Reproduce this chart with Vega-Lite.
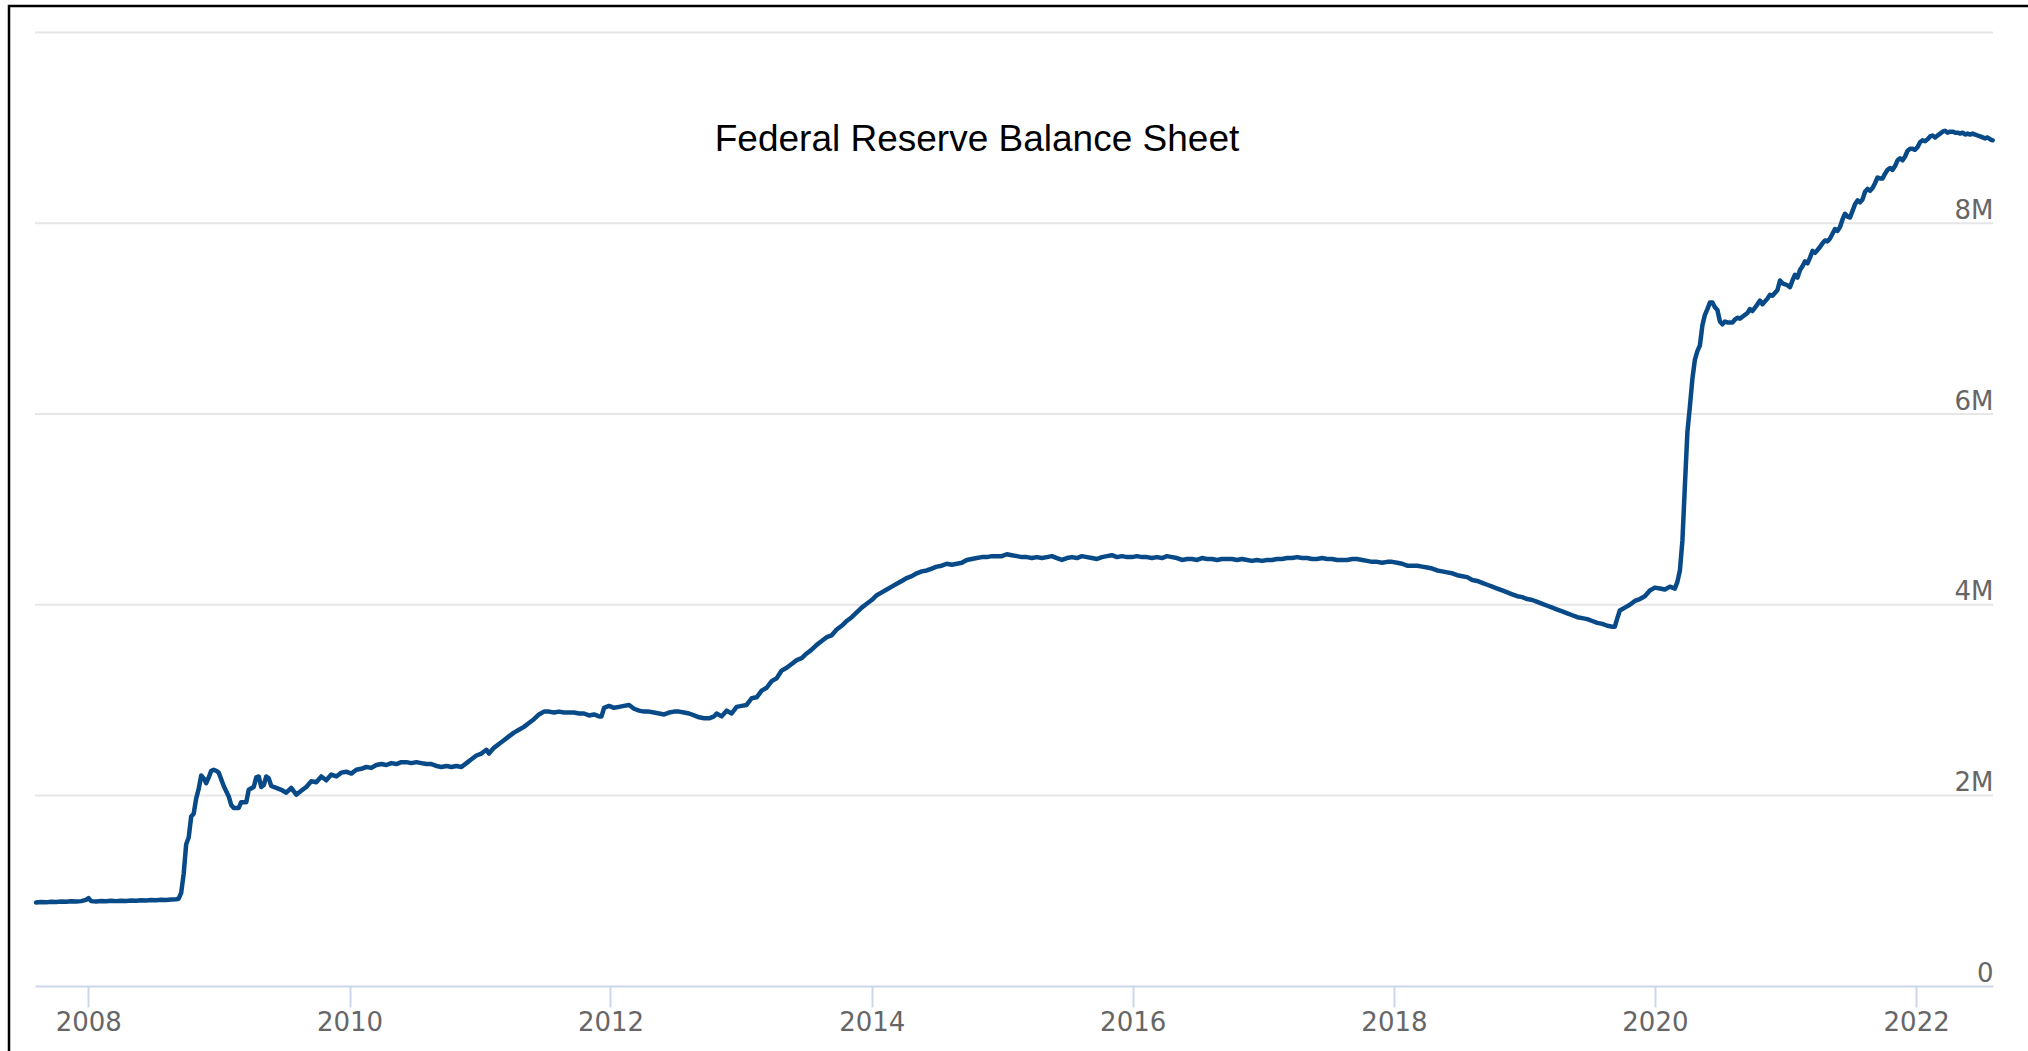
{
 "$schema": "https://vega.github.io/schema/vega-lite/v6.json",
 "width": 2030,
 "height": 1060,
 "autosize": {"type": "none"},
 "padding": {"left": 9, "top": 6, "right": 0, "bottom": 0},
 "background": "white",
 "title": {"text": "Federal Reserve Balance Sheet", "font": "Liberation Sans", "fontSize": 37, "fontWeight": "normal", "color": "#000000", "anchor": "middle", "frame": "group", "dx": -47, "dy": 182, "baseline": "alphabetic", "offset": 0},
 "config": {"view": {"stroke": "#000000", "strokeWidth": 2.5}},
 "layer": [
  {
   "data": {"values": [{"level": 2000000}, {"level": 4000000}, {"level": 6000000}, {"level": 8000000}, {"level": 10000000}]},
   "mark": {"type": "rule", "color": "#e6e6e6", "strokeWidth": 2},
   "encoding": {
    "y": {"field": "level", "type": "quantitative",
     "axis": {"title": null, "orient": "right", "offset": -46, "values": [0, 2000000, 4000000, 6000000, 8000000], "labelExpr": "datum.value == 0 ? '0' : (datum.value / 1000000) + 'M'", "domain": false, "ticks": false, "tickSize": 0, "labelPadding": 0, "labelAlign": "right", "labelBaseline": "alphabetic", "labelOffset": -5, "grid": false, "labelFont": "DejaVu Sans", "labelFontSize": 26, "labelColor": "#666666", "labelOverlap": false}},
    "x": {"datum": {"year": 2007, "month": 8, "date": 5, "utc": true}, "type": "temporal"},
    "x2": {"datum": {"year": 2022, "month": 8, "date": 4, "utc": true}}
   }
  },
  {
   "data": {"values": [
  {"date":"2007-08-08","value":878000},{"date":"2007-08-22","value":884000},{"date":"2007-09-05","value":880000},{"date":"2007-09-19","value":887000},
  {"date":"2007-10-03","value":885000},{"date":"2007-10-17","value":889000},{"date":"2007-10-31","value":887000},{"date":"2007-11-14","value":891000},
  {"date":"2007-11-28","value":889000},{"date":"2007-12-12","value":893000},{"date":"2007-12-26","value":906000},{"date":"2008-01-02","value":925000},
  {"date":"2008-01-09","value":893000},{"date":"2008-01-23","value":890000},{"date":"2008-02-06","value":894000},{"date":"2008-02-20","value":891000},
  {"date":"2008-03-05","value":896000},{"date":"2008-03-19","value":893000},{"date":"2008-04-02","value":897000},{"date":"2008-04-16","value":895000},
  {"date":"2008-04-30","value":899000},{"date":"2008-05-14","value":897000},{"date":"2008-05-28","value":902000},{"date":"2008-06-11","value":900000},
  {"date":"2008-06-25","value":905000},{"date":"2008-07-09","value":903000},{"date":"2008-07-23","value":908000},{"date":"2008-08-06","value":906000},
  {"date":"2008-08-20","value":910000},{"date":"2008-09-03","value":912000},{"date":"2008-09-10","value":918000},{"date":"2008-09-17","value":980000},
  {"date":"2008-09-24","value":1180000},{"date":"2008-10-01","value":1490000},{"date":"2008-10-08","value":1560000},{"date":"2008-10-15","value":1780000},
  {"date":"2008-10-22","value":1810000},{"date":"2008-10-29","value":1970000},{"date":"2008-11-05","value":2070000},{"date":"2008-11-12","value":2210000},
  {"date":"2008-11-19","value":2180000},{"date":"2008-11-26","value":2130000},{"date":"2008-12-03","value":2190000},{"date":"2008-12-10","value":2260000},
  {"date":"2008-12-17","value":2270000},{"date":"2008-12-24","value":2260000},{"date":"2008-12-31","value":2240000},{"date":"2009-01-14","value":2100000},
  {"date":"2009-01-28","value":1990000},{"date":"2009-02-04","value":1900000},{"date":"2009-02-11","value":1870000},{"date":"2009-02-25","value":1870000},
  {"date":"2009-03-04","value":1930000},{"date":"2009-03-18","value":1930000},{"date":"2009-03-25","value":2060000},{"date":"2009-04-08","value":2090000},
  {"date":"2009-04-15","value":2190000},{"date":"2009-04-22","value":2200000},{"date":"2009-04-29","value":2090000},{"date":"2009-05-06","value":2110000},
  {"date":"2009-05-13","value":2200000},{"date":"2009-05-20","value":2180000},{"date":"2009-05-27","value":2100000},{"date":"2009-06-10","value":2080000},
  {"date":"2009-06-24","value":2060000},{"date":"2009-07-08","value":2030000},{"date":"2009-07-22","value":2080000},{"date":"2009-08-05","value":2010000},
  {"date":"2009-08-19","value":2050000},{"date":"2009-09-02","value":2090000},{"date":"2009-09-16","value":2150000},{"date":"2009-09-30","value":2140000},
  {"date":"2009-10-14","value":2200000},{"date":"2009-10-28","value":2160000},{"date":"2009-11-11","value":2220000},{"date":"2009-11-25","value":2200000},
  {"date":"2009-12-09","value":2240000},{"date":"2009-12-23","value":2250000},{"date":"2010-01-06","value":2230000},{"date":"2010-01-20","value":2270000},
  {"date":"2010-02-03","value":2280000},{"date":"2010-02-17","value":2300000},{"date":"2010-03-03","value":2290000},{"date":"2010-03-17","value":2320000},
  {"date":"2010-03-31","value":2330000},{"date":"2010-04-14","value":2320000},{"date":"2010-04-28","value":2340000},{"date":"2010-05-12","value":2330000},
  {"date":"2010-05-26","value":2350000},{"date":"2010-06-09","value":2350000},{"date":"2010-06-23","value":2340000},{"date":"2010-07-07","value":2350000},
  {"date":"2010-07-21","value":2340000},{"date":"2010-08-04","value":2330000},{"date":"2010-08-18","value":2330000},{"date":"2010-09-01","value":2310000},
  {"date":"2010-09-15","value":2300000},{"date":"2010-09-29","value":2310000},{"date":"2010-10-13","value":2300000},{"date":"2010-10-27","value":2310000},
  {"date":"2010-11-10","value":2300000},{"date":"2010-11-24","value":2340000},{"date":"2010-12-08","value":2380000},{"date":"2010-12-22","value":2420000},
  {"date":"2011-01-05","value":2440000},{"date":"2011-01-19","value":2480000},{"date":"2011-01-26","value":2440000},{"date":"2011-02-09","value":2500000},
  {"date":"2011-02-23","value":2540000},{"date":"2011-03-09","value":2580000},{"date":"2011-03-23","value":2620000},{"date":"2011-04-06","value":2660000},
  {"date":"2011-04-20","value":2690000},{"date":"2011-05-04","value":2720000},{"date":"2011-05-18","value":2760000},{"date":"2011-06-01","value":2800000},
  {"date":"2011-06-15","value":2850000},{"date":"2011-06-29","value":2880000},{"date":"2011-07-13","value":2880000},{"date":"2011-07-27","value":2870000},
  {"date":"2011-08-10","value":2880000},{"date":"2011-08-24","value":2870000},{"date":"2011-09-07","value":2870000},{"date":"2011-09-21","value":2870000},
  {"date":"2011-10-05","value":2860000},{"date":"2011-10-19","value":2860000},{"date":"2011-11-02","value":2840000},{"date":"2011-11-16","value":2850000},
  {"date":"2011-11-30","value":2830000},{"date":"2011-12-07","value":2830000},{"date":"2011-12-14","value":2920000},{"date":"2011-12-28","value":2940000},
  {"date":"2012-01-11","value":2920000},{"date":"2012-01-25","value":2930000},{"date":"2012-02-08","value":2940000},{"date":"2012-02-22","value":2950000},
  {"date":"2012-03-07","value":2910000},{"date":"2012-03-21","value":2890000},{"date":"2012-04-04","value":2880000},{"date":"2012-04-18","value":2880000},
  {"date":"2012-05-02","value":2870000},{"date":"2012-05-16","value":2860000},{"date":"2012-05-30","value":2850000},{"date":"2012-06-13","value":2870000},
  {"date":"2012-06-27","value":2880000},{"date":"2012-07-11","value":2880000},{"date":"2012-07-25","value":2870000},{"date":"2012-08-08","value":2860000},
  {"date":"2012-08-22","value":2840000},{"date":"2012-09-05","value":2820000},{"date":"2012-09-19","value":2810000},{"date":"2012-10-03","value":2810000},
  {"date":"2012-10-17","value":2830000},{"date":"2012-10-24","value":2860000},{"date":"2012-11-07","value":2830000},{"date":"2012-11-21","value":2890000},
  {"date":"2012-12-05","value":2860000},{"date":"2012-12-19","value":2930000},{"date":"2013-01-02","value":2940000},{"date":"2013-01-16","value":2950000},
  {"date":"2013-01-30","value":3020000},{"date":"2013-02-13","value":3030000},{"date":"2013-02-27","value":3100000},{"date":"2013-03-13","value":3130000},
  {"date":"2013-03-27","value":3200000},{"date":"2013-04-10","value":3230000},{"date":"2013-04-24","value":3310000},{"date":"2013-05-08","value":3340000},
  {"date":"2013-05-22","value":3380000},{"date":"2013-06-05","value":3420000},{"date":"2013-06-19","value":3440000},{"date":"2013-07-03","value":3490000},
  {"date":"2013-07-17","value":3530000},{"date":"2013-07-31","value":3580000},{"date":"2013-08-14","value":3620000},{"date":"2013-08-28","value":3660000},
  {"date":"2013-09-11","value":3680000},{"date":"2013-09-25","value":3740000},{"date":"2013-10-09","value":3780000},{"date":"2013-10-23","value":3830000},
  {"date":"2013-11-06","value":3870000},{"date":"2013-11-20","value":3920000},{"date":"2013-12-04","value":3970000},{"date":"2013-12-18","value":4010000},
  {"date":"2014-01-01","value":4050000},{"date":"2014-01-15","value":4100000},{"date":"2014-01-29","value":4130000},{"date":"2014-02-12","value":4160000},
  {"date":"2014-02-26","value":4190000},{"date":"2014-03-12","value":4220000},{"date":"2014-03-26","value":4250000},{"date":"2014-04-09","value":4280000},
  {"date":"2014-04-23","value":4300000},{"date":"2014-05-07","value":4330000},{"date":"2014-05-21","value":4350000},{"date":"2014-06-04","value":4360000},
  {"date":"2014-06-18","value":4380000},{"date":"2014-07-02","value":4400000},{"date":"2014-07-16","value":4410000},{"date":"2014-07-30","value":4430000},
  {"date":"2014-08-13","value":4420000},{"date":"2014-08-27","value":4430000},{"date":"2014-09-10","value":4440000},{"date":"2014-09-24","value":4470000},
  {"date":"2014-10-08","value":4480000},{"date":"2014-10-22","value":4490000},{"date":"2014-11-05","value":4500000},{"date":"2014-11-19","value":4500000},
  {"date":"2014-12-03","value":4510000},{"date":"2014-12-17","value":4510000},{"date":"2014-12-31","value":4510000},{"date":"2015-01-14","value":4530000},
  {"date":"2015-01-28","value":4520000},{"date":"2015-02-11","value":4510000},{"date":"2015-02-25","value":4500000},{"date":"2015-03-11","value":4500000},
  {"date":"2015-03-25","value":4490000},{"date":"2015-04-08","value":4500000},{"date":"2015-04-22","value":4490000},{"date":"2015-05-06","value":4500000},
  {"date":"2015-05-20","value":4510000},{"date":"2015-06-03","value":4490000},{"date":"2015-06-17","value":4470000},{"date":"2015-07-01","value":4490000},
  {"date":"2015-07-15","value":4500000},{"date":"2015-07-29","value":4490000},{"date":"2015-08-12","value":4510000},{"date":"2015-08-26","value":4500000},
  {"date":"2015-09-09","value":4490000},{"date":"2015-09-23","value":4480000},{"date":"2015-10-07","value":4500000},{"date":"2015-10-21","value":4510000},
  {"date":"2015-11-04","value":4520000},{"date":"2015-11-18","value":4500000},{"date":"2015-12-02","value":4510000},{"date":"2015-12-16","value":4500000},
  {"date":"2015-12-30","value":4500000},{"date":"2016-01-13","value":4510000},{"date":"2016-01-27","value":4500000},{"date":"2016-02-10","value":4500000},
  {"date":"2016-02-24","value":4490000},{"date":"2016-03-09","value":4500000},{"date":"2016-03-23","value":4490000},{"date":"2016-04-06","value":4510000},
  {"date":"2016-04-20","value":4500000},{"date":"2016-05-04","value":4490000},{"date":"2016-05-18","value":4470000},{"date":"2016-06-01","value":4480000},
  {"date":"2016-06-15","value":4480000},{"date":"2016-06-29","value":4470000},{"date":"2016-07-13","value":4490000},{"date":"2016-07-27","value":4480000},
  {"date":"2016-08-10","value":4480000},{"date":"2016-08-24","value":4470000},{"date":"2016-09-07","value":4480000},{"date":"2016-09-21","value":4480000},
  {"date":"2016-10-05","value":4480000},{"date":"2016-10-19","value":4470000},{"date":"2016-11-02","value":4480000},{"date":"2016-11-16","value":4470000},
  {"date":"2016-11-30","value":4460000},{"date":"2016-12-14","value":4470000},{"date":"2016-12-28","value":4460000},{"date":"2017-01-11","value":4470000},
  {"date":"2017-01-25","value":4470000},{"date":"2017-02-08","value":4480000},{"date":"2017-02-22","value":4480000},{"date":"2017-03-08","value":4490000},
  {"date":"2017-03-22","value":4490000},{"date":"2017-04-05","value":4500000},{"date":"2017-04-19","value":4490000},{"date":"2017-05-03","value":4490000},
  {"date":"2017-05-17","value":4480000},{"date":"2017-05-31","value":4480000},{"date":"2017-06-14","value":4490000},{"date":"2017-06-28","value":4480000},
  {"date":"2017-07-12","value":4480000},{"date":"2017-07-26","value":4470000},{"date":"2017-08-09","value":4470000},{"date":"2017-08-23","value":4470000},
  {"date":"2017-09-06","value":4480000},{"date":"2017-09-20","value":4480000},{"date":"2017-10-04","value":4470000},{"date":"2017-10-18","value":4460000},
  {"date":"2017-11-01","value":4450000},{"date":"2017-11-15","value":4450000},{"date":"2017-11-29","value":4440000},{"date":"2017-12-13","value":4450000},
  {"date":"2017-12-27","value":4450000},{"date":"2018-01-10","value":4440000},{"date":"2018-01-24","value":4430000},{"date":"2018-02-07","value":4410000},
  {"date":"2018-02-21","value":4410000},{"date":"2018-03-07","value":4410000},{"date":"2018-03-21","value":4400000},{"date":"2018-04-04","value":4390000},
  {"date":"2018-04-18","value":4380000},{"date":"2018-05-02","value":4360000},{"date":"2018-05-16","value":4350000},{"date":"2018-05-30","value":4340000},
  {"date":"2018-06-13","value":4330000},{"date":"2018-06-27","value":4310000},{"date":"2018-07-11","value":4300000},{"date":"2018-07-25","value":4290000},
  {"date":"2018-08-08","value":4260000},{"date":"2018-08-22","value":4250000},{"date":"2018-09-05","value":4230000},{"date":"2018-09-19","value":4210000},
  {"date":"2018-10-03","value":4190000},{"date":"2018-10-17","value":4170000},{"date":"2018-10-31","value":4150000},{"date":"2018-11-14","value":4130000},
  {"date":"2018-11-28","value":4110000},{"date":"2018-12-12","value":4090000},{"date":"2018-12-26","value":4080000},{"date":"2019-01-09","value":4060000},
  {"date":"2019-01-23","value":4050000},{"date":"2019-02-06","value":4030000},{"date":"2019-02-20","value":4010000},{"date":"2019-03-06","value":3990000},
  {"date":"2019-03-20","value":3970000},{"date":"2019-04-03","value":3950000},{"date":"2019-04-17","value":3930000},{"date":"2019-05-01","value":3910000},
  {"date":"2019-05-15","value":3890000},{"date":"2019-05-29","value":3870000},{"date":"2019-06-12","value":3860000},{"date":"2019-06-26","value":3850000},
  {"date":"2019-07-10","value":3830000},{"date":"2019-07-24","value":3810000},{"date":"2019-08-07","value":3800000},{"date":"2019-08-21","value":3780000},
  {"date":"2019-09-04","value":3770000},{"date":"2019-09-11","value":3770000},{"date":"2019-09-18","value":3860000},{"date":"2019-09-25","value":3940000},
  {"date":"2019-10-09","value":3970000},{"date":"2019-10-23","value":4000000},{"date":"2019-11-06","value":4040000},{"date":"2019-11-20","value":4060000},
  {"date":"2019-12-04","value":4090000},{"date":"2019-12-18","value":4150000},{"date":"2020-01-01","value":4180000},{"date":"2020-01-15","value":4170000},
  {"date":"2020-01-29","value":4160000},{"date":"2020-02-12","value":4190000},{"date":"2020-02-26","value":4170000},{"date":"2020-03-04","value":4240000},
  {"date":"2020-03-11","value":4360000},{"date":"2020-03-18","value":4670000},{"date":"2020-03-25","value":5250000},{"date":"2020-04-01","value":5810000},
  {"date":"2020-04-08","value":6080000},{"date":"2020-04-15","value":6370000},{"date":"2020-04-22","value":6570000},{"date":"2020-04-29","value":6660000},
  {"date":"2020-05-06","value":6720000},{"date":"2020-05-13","value":6930000},{"date":"2020-05-20","value":7040000},{"date":"2020-05-27","value":7100000},
  {"date":"2020-06-03","value":7170000},{"date":"2020-06-10","value":7170000},{"date":"2020-06-17","value":7120000},{"date":"2020-06-24","value":7090000},
  {"date":"2020-07-01","value":6970000},{"date":"2020-07-08","value":6940000},{"date":"2020-07-15","value":6970000},{"date":"2020-07-22","value":6960000},
  {"date":"2020-07-29","value":6960000},{"date":"2020-08-05","value":6960000},{"date":"2020-08-12","value":6990000},{"date":"2020-08-19","value":7010000},
  {"date":"2020-08-26","value":7000000},{"date":"2020-09-02","value":7020000},{"date":"2020-09-16","value":7060000},{"date":"2020-09-23","value":7100000},
  {"date":"2020-09-30","value":7080000},{"date":"2020-10-14","value":7150000},{"date":"2020-10-21","value":7190000},{"date":"2020-10-28","value":7150000},
  {"date":"2020-11-11","value":7210000},{"date":"2020-11-18","value":7250000},{"date":"2020-11-25","value":7240000},{"date":"2020-12-09","value":7300000},
  {"date":"2020-12-16","value":7400000},{"date":"2020-12-23","value":7370000},{"date":"2021-01-06","value":7350000},{"date":"2021-01-13","value":7330000},
  {"date":"2021-01-20","value":7400000},{"date":"2021-01-27","value":7460000},{"date":"2021-02-03","value":7430000},{"date":"2021-02-10","value":7510000},
  {"date":"2021-02-17","value":7550000},{"date":"2021-02-24","value":7600000},{"date":"2021-03-03","value":7580000},{"date":"2021-03-10","value":7640000},
  {"date":"2021-03-17","value":7710000},{"date":"2021-03-24","value":7690000},{"date":"2021-03-31","value":7720000},{"date":"2021-04-07","value":7750000},
  {"date":"2021-04-14","value":7790000},{"date":"2021-04-21","value":7820000},{"date":"2021-04-28","value":7810000},{"date":"2021-05-05","value":7840000},
  {"date":"2021-05-12","value":7890000},{"date":"2021-05-19","value":7940000},{"date":"2021-05-26","value":7920000},{"date":"2021-06-02","value":7960000},
  {"date":"2021-06-09","value":8040000},{"date":"2021-06-16","value":8100000},{"date":"2021-06-23","value":8070000},{"date":"2021-06-30","value":8060000},
  {"date":"2021-07-07","value":8130000},{"date":"2021-07-14","value":8200000},{"date":"2021-07-21","value":8240000},{"date":"2021-07-28","value":8220000},
  {"date":"2021-08-04","value":8250000},{"date":"2021-08-11","value":8330000},{"date":"2021-08-18","value":8360000},{"date":"2021-08-25","value":8340000},
  {"date":"2021-09-01","value":8370000},{"date":"2021-09-08","value":8420000},{"date":"2021-09-15","value":8480000},{"date":"2021-09-22","value":8470000},
  {"date":"2021-09-29","value":8470000},{"date":"2021-10-06","value":8520000},{"date":"2021-10-13","value":8560000},{"date":"2021-10-20","value":8580000},
  {"date":"2021-10-27","value":8560000},{"date":"2021-11-03","value":8600000},{"date":"2021-11-10","value":8660000},{"date":"2021-11-17","value":8680000},
  {"date":"2021-11-24","value":8660000},{"date":"2021-12-01","value":8700000},{"date":"2021-12-08","value":8760000},{"date":"2021-12-15","value":8780000},
  {"date":"2021-12-22","value":8780000},{"date":"2021-12-29","value":8770000},{"date":"2022-01-05","value":8800000},{"date":"2022-01-12","value":8850000},
  {"date":"2022-01-19","value":8870000},{"date":"2022-01-26","value":8860000},{"date":"2022-02-02","value":8880000},{"date":"2022-02-09","value":8910000},
  {"date":"2022-02-16","value":8920000},{"date":"2022-02-23","value":8900000},{"date":"2022-03-02","value":8920000},{"date":"2022-03-09","value":8940000},
  {"date":"2022-03-16","value":8960000},{"date":"2022-03-23","value":8970000},{"date":"2022-03-30","value":8950000},{"date":"2022-04-06","value":8960000},
  {"date":"2022-04-13","value":8960000},{"date":"2022-04-20","value":8950000},{"date":"2022-04-27","value":8950000},{"date":"2022-05-04","value":8940000},
  {"date":"2022-05-11","value":8950000},{"date":"2022-05-18","value":8930000},{"date":"2022-05-25","value":8940000},{"date":"2022-06-01","value":8930000},
  {"date":"2022-06-08","value":8940000},{"date":"2022-06-15","value":8930000},{"date":"2022-06-22","value":8920000},{"date":"2022-06-29","value":8910000},
  {"date":"2022-07-06","value":8900000},{"date":"2022-07-13","value":8890000},{"date":"2022-07-20","value":8900000},{"date":"2022-07-27","value":8880000},
  {"date":"2022-08-03","value":8870000}
   ]},
   "mark": {"type": "line", "color": "#084a87", "strokeWidth": 4.5, "strokeJoin": "round", "strokeCap": "round", "clip": false},
   "encoding": {
    "x": {
     "field": "date", "type": "temporal",
     "scale": {"type": "utc", "domain": [{"year": 2007, "month": 8, "date": 5, "utc": true}, {"year": 2022, "month": 8, "date": 4, "utc": true}], "range": [26, 1984], "nice": false},
     "axis": {"title": null, "orient": "bottom", "offset": -80, "format": "%Y", "tickCount": {"interval": "year", "step": 2}, "grid": false, "domainColor": "#ccd6eb", "domainWidth": 2, "tickColor": "#ccd6eb", "tickWidth": 2, "tickSize": 21, "labelFont": "DejaVu Sans", "labelFontSize": 26, "labelColor": "#666666", "labelPadding": 2, "labelFlush": false, "labelOverlap": false, "zindex": 1}
    },
    "y": {
     "field": "value", "type": "quantitative",
     "scale": {"domain": [0, 10000000], "range": [980.3, 26.5], "nice": false, "zero": true},
     "axis": {"title": null, "orient": "right", "offset": -46, "values": [0, 2000000, 4000000, 6000000, 8000000], "labelExpr": "datum.value == 0 ? '0' : (datum.value / 1000000) + 'M'", "domain": false, "ticks": false, "tickSize": 0, "labelPadding": 0, "labelAlign": "right", "labelBaseline": "alphabetic", "labelOffset": -5, "grid": false, "labelFont": "DejaVu Sans", "labelFontSize": 26, "labelColor": "#666666", "labelOverlap": false}
    }
   }
  }
 ]
}
